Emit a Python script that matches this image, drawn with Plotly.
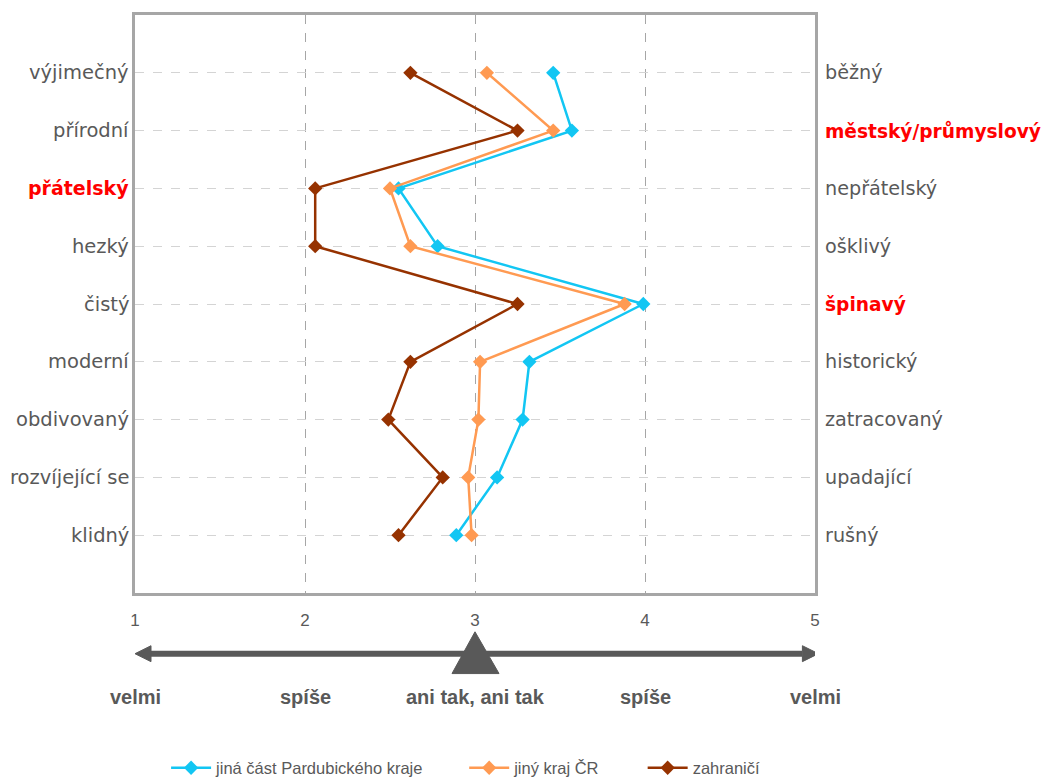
import plotly.graph_objects as go

left_labels = ["výjimečný", "přírodní", "přátelský", "hezký", "čistý",
               "moderní", "obdivovaný", "rozvíjející se", "klidný"]
right_labels = ["běžný", "městský/průmyslový", "nepřátelský", "ošklivý", "špinavý",
                "historický", "zatracovaný", "upadající", "rušný"]
left_highlight = [False, False, True, False, False, False, False, False, False]
right_highlight = [False, True, False, False, True, False, False, False, False]

series_names = ["jiná část Pardubického kraje", "jiný kraj ČR", "zahraničí"]
pardubice = [3.46, 3.57, 2.55, 2.78, 3.99, 3.32, 3.28, 3.13, 2.89]
jiny_kraj = [3.07, 3.46, 2.50, 2.62, 3.88, 3.03, 3.02, 2.96, 2.98]
zahranici = [2.62, 3.25, 2.06, 2.06, 3.25, 2.62, 2.49, 2.81, 2.55]
series_values = [pardubice, jiny_kraj, zahranici]
series_colors = ["#12C6F3", "#FF9A52", "#963200"]

scale_ticks = [1, 2, 3, 4, 5]
scale_words = ["velmi", "spíše", "ani tak, ani tak", "spíše", "velmi"]

rows = list(range(len(left_labels)))
GRAY = "#595959"

fig = go.Figure()
legend_ids = ["legend", "legend2", "legend3"]
for name, vals, col, lg in zip(series_names, series_values, series_colors, legend_ids):
    fig.add_trace(go.Scatter(
        x=vals, y=rows, name=name, mode="lines+markers", legend=lg,
        line=dict(color=col, width=2.5),
        marker=dict(symbol="diamond", size=11, color=col),
    ))

annotations = []
for r, lab, hl in zip(rows, left_labels, left_highlight):
    annotations.append(dict(
        x=0, xref="paper", y=r, yref="y", xanchor="right", yanchor="middle",
        xshift=-4, showarrow=False,
        text=f"<b>{lab}</b>" if hl else lab,
        font=dict(family="DejaVu Sans", size=19 if hl else 19.5,
                  color="#FF0000" if hl else GRAY)))
for r, lab, hl in zip(rows, right_labels, right_highlight):
    annotations.append(dict(
        x=1, xref="paper", y=r, yref="y", xanchor="left", yanchor="middle",
        xshift=8, showarrow=False,
        text=f"<b>{lab}</b>" if hl else lab,
        font=dict(family="DejaVu Sans", size=18.6 if hl else 19.2,
                  color="#FF0000" if hl else GRAY)))
for t, w in zip(scale_ticks, scale_words):
    annotations.append(dict(
        x=t, xref="x", y=-0.1807, yref="paper", xanchor="center", yanchor="middle",
        showarrow=False, text=f"<b>{w}</b>",
        font=dict(family="Liberation Sans", size=20, color=GRAY)))

px_x = 1 / 170.0
px_y = 1 / 581.0
ay = -0.105
hh = 8 * px_y
hl_ = 16 * px_x
shapes = [
    dict(type="line", xref="x", yref="paper", x0=1 + hl_ * 0.8, x1=5 - hl_ * 0.8,
         y0=ay, y1=ay, line=dict(color=GRAY, width=6)),
    dict(type="path", xref="x", yref="paper",
         path=f"M 1,{ay} L {1 + hl_},{ay + hh} L {1 + hl_},{ay - hh} Z",
         fillcolor=GRAY, line=dict(color=GRAY, width=1)),
    dict(type="path", xref="x", yref="paper",
         path=f"M 5.02,{ay} L {5.02 - hl_},{ay + hh} L {5.02 - hl_},{ay - hh} Z",
         fillcolor=GRAY, line=dict(color=GRAY, width=1)),
    dict(type="path", xref="x", yref="paper",
         path=f"M {3 - 23 * px_x},-0.1394 L {3 + 24 * px_x},-0.1394 L 3,-0.0671 Z",
         fillcolor=GRAY, line=dict(color=GRAY, width=1)),
]

legend_font = dict(family="Liberation Sans", size=16.5, color=GRAY)
legend_common = dict(orientation="h", xref="container", yref="container",
                     xanchor="left", yanchor="middle", y=0.0256,
                     font=legend_font, itemwidth=40, bgcolor="rgba(0,0,0,0)")

fig.update_layout(
    width=1056, height=780,
    margin=dict(l=127, r=249, t=4, b=195),
    paper_bgcolor="white", plot_bgcolor="white",
    annotations=annotations, shapes=shapes,
    showlegend=True,
    legend=dict(x=0.1497, **legend_common),
    legend2=dict(x=0.432, **legend_common),
    legend3=dict(x=0.601, **legend_common),
    xaxis=dict(range=[1, 5], tickvals=scale_ticks, ticktext=[str(t) for t in scale_ticks],
               showgrid=True, gridcolor="#A6A6A6", griddash="dash", gridwidth=1,
               showline=True, mirror=True, linecolor="#A6A6A6", linewidth=2.5,
               zeroline=False, ticks="", ticklabelstandoff=10,
               tickfont=dict(family="Liberation Sans", size=17, color=GRAY)),
    yaxis=dict(range=[9, -1], tickvals=rows, showticklabels=False,
               showgrid=True, gridcolor="#D4D4D4", griddash="dash", gridwidth=1,
               showline=True, mirror=True, linecolor="#A6A6A6", linewidth=2.5,
               zeroline=False, ticks=""),
)

fig.write_html("out.html")
